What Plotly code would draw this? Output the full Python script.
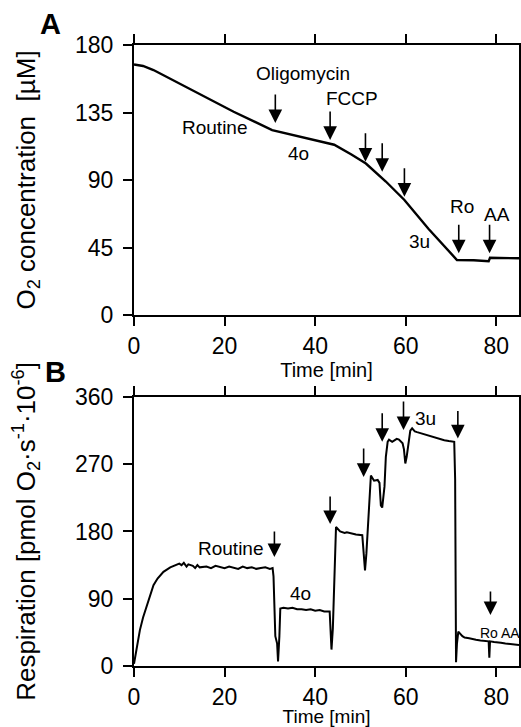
import plotly.graph_objects as go

# ---------------- data ----------------
# Panel A: O2 concentration trace
time_a = [0, 2, 4.3, 8, 15, 22, 30.5, 37, 44.2, 48, 51.2, 55.6, 59.7, 65, 71.3, 75, 78.3, 78.6, 85]
o2_conc = [167, 166, 163.3, 157.5, 146.5, 135.5, 123.3, 118.5, 113.5, 107, 101, 89, 76.7, 57.5, 36.7, 36.5, 35.8, 38.2, 37.8]

# Panel B: respiration (O2 flux) trace
time_b = [0, 0.5, 1.3, 2, 2.8, 3.5, 4.3, 5.2, 6.5, 8, 9, 10, 10.5, 11, 11.6, 12, 13, 13.5, 14, 14.5,
          16, 17, 18, 19, 20, 21, 22, 23, 24, 25, 26, 27, 28, 29, 30, 30.6,
          30.8, 31.2, 31.6, 31.8, 32.1, 32.3, 33, 34, 35, 36, 37, 38, 39, 40, 41, 42, 43.2,
          43.4, 43.6, 43.9, 44.3, 44.6, 45.5, 46.5, 47, 48, 49, 50.4,
          50.7, 51.0, 51.3, 51.6, 52.0, 52.3, 53, 53.8, 54.2,
          54.5, 54.8, 55.3, 55.6, 56.0, 56.3, 57, 57.5, 58, 58.5, 59.3,
          59.6, 59.9, 60.2, 60.6, 61.0, 61.4, 62, 62.5, 63.5, 64, 65, 65.5, 66.5, 67, 68, 68.5, 69.5, 70, 70.7,
          70.9, 71.1, 71.3, 71.6, 72.5, 73, 74, 75, 75.5, 76.5, 77, 78.3, 78.45, 78.6, 79.5, 80, 81, 82, 83.5, 85]
respiration = [3, 20, 48, 65, 80, 95, 108, 117, 126, 132, 134, 137, 135, 138, 133, 136, 134, 131, 135, 132,
               133, 131, 134, 132, 131, 133, 132, 130, 133, 131, 132, 130, 131, 132, 130, 131,
               120, 40, 30, 6, 40, 77, 78, 77, 78, 76, 76, 75, 76, 74, 75, 73, 73,
               40, 22, 50, 130, 186, 180, 178, 179, 177, 176, 175,
               150, 128, 150, 185, 230, 255, 248, 249, 245,
               215, 212, 240, 280, 300, 303, 300, 302, 304, 303, 298,
               290, 271, 280, 300, 315, 318, 314, 313, 311, 310, 309, 307, 306, 305, 303, 302, 301, 301, 300,
               250, 5, 30, 46, 40, 38, 37, 35, 35, 34, 34, 33, 11, 33, 32, 32, 31, 30, 29, 28]

x_ticks = [0, 20, 40, 60, 80]
o2_ticks = [0, 45, 90, 135, 180]
resp_ticks = [0, 90, 180, 270, 360]

# Panel A arrows: (time, O2 value at arrow tip)
arrows_a_t = [31.2, 43.3, 51.1, 54.8, 59.7, 71.7, 78.5]
arrows_a_y = [128, 116.7, 102.2, 95.5, 78.9, 41.1, 41.1]
labels_a = ["Oligomycin", "FCCP", "Routine", "4o", "3u", "Ro", "AA"]
labels_a_t = [37.4, 48.1, 17.9, 36.3, 63.1, 72.4, 80.2]
labels_a_y = [160.7, 144.5, 125, 107.8, 48.9, 72.2, 66.7]

# Panel B arrows
arrows_b_t = [31.0, 43.3, 50.7, 54.8, 59.5, 71.5, 78.7]
arrows_b_y = [145.8, 190, 253, 300, 315.7, 304.6, 68.2]
arrows_b_len = [27, 29, 30, 30, 30, 29, 25]
labels_b = ["Routine", "4o", "3u", "Ro AA"]
labels_b_t = [21.5, 36.7, 64.3, 80.7]
labels_b_y = [157.5, 97, 331, 44]
labels_b_size = [19, 19, 19, 14]

FONT = "Liberation Sans, Arial, sans-serif"

fig = go.Figure()
fig.add_trace(go.Scatter(x=time_a, y=o2_conc, mode="lines", xaxis="x", yaxis="y",
                         line=dict(color="black", width=2.4), showlegend=False))
fig.add_trace(go.Scatter(x=time_b, y=respiration, mode="lines", xaxis="x2", yaxis="y2",
                         line=dict(color="black", width=2), showlegend=False))

ann = []
for t, y in zip(arrows_a_t, arrows_a_y):
    ann.append(dict(x=t, y=y, xref="x", yref="y", ax=0, ay=-30, text="", showarrow=True,
                    arrowhead=2, arrowsize=1.7, arrowwidth=1.6, arrowcolor="black"))
for txt, t, y in zip(labels_a, labels_a_t, labels_a_y):
    ann.append(dict(x=t, y=y, xref="x", yref="y", text=txt, showarrow=False,
                    font=dict(size=19, color="black", family=FONT)))
for t, y, L in zip(arrows_b_t, arrows_b_y, arrows_b_len):
    ann.append(dict(x=t, y=y, xref="x2", yref="y2", ax=0, ay=-L, text="", showarrow=True,
                    arrowhead=2, arrowsize=1.7, arrowwidth=1.6, arrowcolor="black"))
for txt, t, y, s in zip(labels_b, labels_b_t, labels_b_y, labels_b_size):
    ann.append(dict(x=t, y=y, xref="x2", yref="y2", text=txt, showarrow=False,
                    font=dict(size=s, color="black", family=FONT)))
ann.append(dict(x=-0.2156, y=1.0338, xref="paper", yref="paper", text="<b>A</b>", showarrow=False,
                xanchor="center", yanchor="middle",
                font=dict(size=29, color="black", family=FONT)))
ann.append(dict(x=-0.205, y=0.4734, xref="paper", yref="paper", text="<b>B</b>", showarrow=False,
                xanchor="center", yanchor="middle",
                font=dict(size=29, color="black", family=FONT)))

axis_common = dict(showline=True, linecolor="black", linewidth=2, mirror="ticks",
                   ticks="outside", ticklen=9, tickwidth=1.5, tickcolor="black",
                   showgrid=False, zeroline=False, automargin=False,
                   tickfont=dict(size=23, color="black", family=FONT))

fig.update_layout(
    width=521, height=727,
    margin=dict(l=134, r=2, t=45, b=61),
    paper_bgcolor="white", plot_bgcolor="white",
    font=dict(family=FONT, color="black"),
    xaxis=dict(domain=[0, 1], anchor="y", range=[0, 85], tickvals=x_ticks,
               title=dict(text="Time [min]", font=dict(size=20), standoff=2), **axis_common),
    yaxis=dict(domain=[0.5652, 1], anchor="x", range=[0, 180], tickvals=o2_ticks,
               ticklabelstandoff=5,
               title=dict(text="O<sub>2</sub> concentration  [µM]", font=dict(size=26), standoff=32),
               **axis_common),
    xaxis2=dict(domain=[0, 1], anchor="y2", range=[0, 85], tickvals=x_ticks,
                title=dict(text="Time [min]", font=dict(size=19), standoff=0), **axis_common),
    yaxis2=dict(domain=[0, 0.4332], anchor="x2", range=[0, 360], tickvals=resp_ticks,
                ticklabelstandoff=5,
                title=dict(text="Respiration [pmol O<sub>2</sub>·s<sup>-1</sup>·10<sup>-6</sup>]",
                           font=dict(size=26), standoff=32),
                **axis_common),
    annotations=ann,
)

fig.write_html(
    "out.html",
    config={"displayModeBar": False},
    post_script="document.body.style.margin='0';document.body.style.overflow='hidden';"
                "document.documentElement.style.overflow='hidden';",
)
